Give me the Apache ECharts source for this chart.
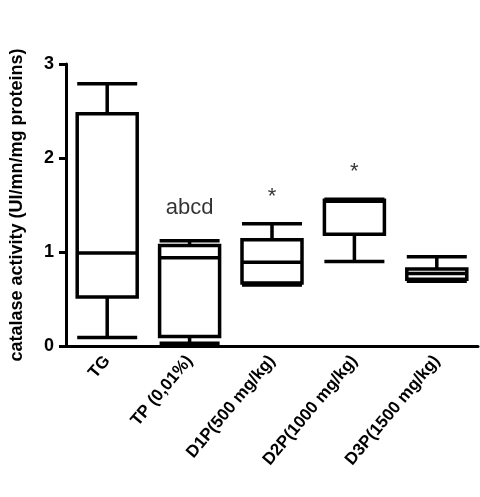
<!DOCTYPE html>
<html><head><meta charset="utf-8">
<script src="https://cdn.jsdelivr.net/npm/echarts@6/dist/echarts.min.js"></script>
<style>html,body{margin:0;background:#fff}#c{width:480px;height:497px}</style>
</head><body><div id="c"></div>
<script>
const groups = ['TG', 'TP (0,01%)', 'D1P(500 mg/kg)', 'D2P(1000 mg/kg)', 'D3P(1500 mg/kg)'];
// [min, Q1, median, Q3, max]
const boxes = [
  [0.09, 0.52, 0.99, 2.47, 2.79],
  [0.03, 0.10, 0.94, 1.07, 1.12],
  [0.65, 0.67, 0.89, 1.13, 1.30],
  [0.90, 1.19, 1.54, 1.55, 1.56],
  [0.69, 0.71, 0.77, 0.82, 0.95]
];
const marks = ['', 'abcd', '*', '*', ''];
const markY = [0, 1.30, 1.42, 1.68, 0];

let chart = echarts.init(document.getElementById('c'));
chart.setOption({
  animation: false,
  grid: { left: 59, right: 2, top: 64, bottom: 151 },
  xAxis: {
    type: 'category', data: groups,
    axisLine: { lineStyle: { color: '#000', width: 3 } },
    axisTick: { lineStyle: { color: '#000', width: 3 }, length: 7 },
    axisLabel: { rotate: 50, color: '#000', fontWeight: 'bold', fontSize: 17, fontFamily: 'Liberation Sans', interval: 0, margin: 12 }
  },
  yAxis: {
    type: 'value', min: 0, max: 3, interval: 1,
    name: 'catalase activity (UI/mn/mg proteins)', nameLocation: 'middle', nameGap: 40,
    nameTextStyle: { fontWeight: 'bold', fontSize: 18, color: '#000', fontFamily: 'Liberation Sans' },
    splitLine: { show: false },
    axisLine: { show: true, lineStyle: { color: '#000', width: 3 } },
    axisTick: { show: true, lineStyle: { color: '#000', width: 3 }, length: 7 },
    axisLabel: { color: '#000', fontWeight: 'bold', fontSize: 18, fontFamily: 'Liberation Sans', margin: 12 }
  },
  series: [{
    type: 'boxplot', data: boxes, boxWidth: [60, 60],
    itemStyle: { color: '#fff', borderColor: '#000', borderWidth: 3.5 }
  }, {
    type: 'scatter', symbolSize: 0,
    data: markY.map((v, i) => ({ value: [i, v], label: { show: !!marks[i], formatter: marks[i] } })),
    label: { position: 'top', color: '#000', fontSize: 22, fontFamily: 'Liberation Sans' }
  }]
});
</script></body></html>
